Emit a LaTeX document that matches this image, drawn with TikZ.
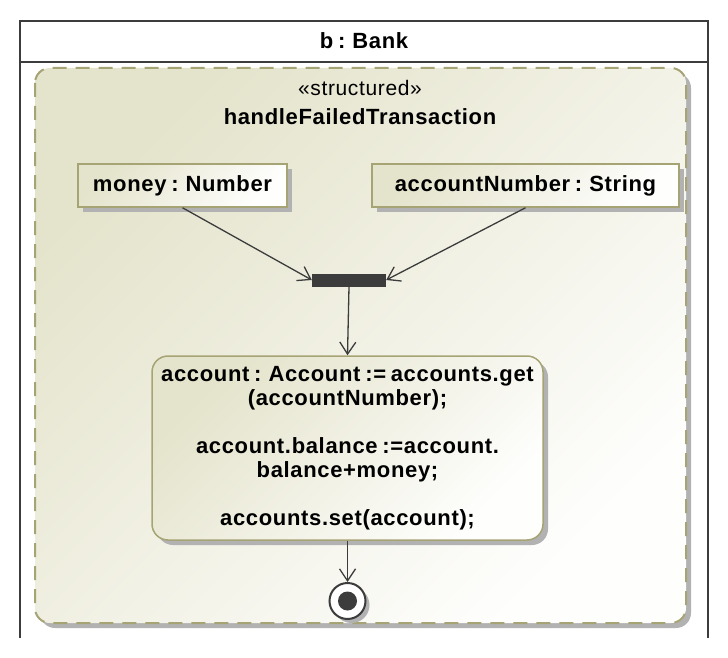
\documentclass[tikz,border=0pt]{standalone}
\usepackage{fontspec}
\setmainfont{Liberation Sans}[LetterSpace=3, WordSpace=0.7]
\usetikzlibrary{arrows.meta,shadows}
\definecolor{umlborder}{RGB}{166,164,116}
\definecolor{umlfill}{RGB}{228,227,203}
\definecolor{umlline}{RGB}{60,60,60}
\definecolor{umlshadow}{RGB}{178,178,178}

\begin{document}
\begin{tikzpicture}[x=1pt, y=-1pt,
        every node/.style={font=\fontsize{22}{24}\selectfont\bfseries},
        umlshade/.style={top color=umlfill, bottom color=white!97!umlfill, shading angle=45},
        umldrop/.style={drop shadow={shadow xshift=5pt, shadow yshift=-5pt, fill=umlshadow, opacity=1}},
        pinbox/.style={draw=umlborder, line width=1.5pt, umlshade, umldrop, inner sep=0pt,
            minimum height=43pt},
        flow/.style={draw=umlline, line width=1.3pt, -{Straight Barb[length=12pt, width=16pt, line width=1.3pt]}}]
    \useasboundingbox (0,0) rectangle (728,658);

    % partition b : Bank
    \draw[umlline, line width=2.5pt] (20,638) -- (20,21) -- (708,21) -- (708,638);
    \draw[umlline, line width=2.5pt] (20,62) -- (708,62);
    \node (bank) at (364,41) {b : Bank};

    % structured activity
    \path[umldrop, umlshade, rounded corners=15pt] (35,68) rectangle (686,623);
    \draw[umlborder, line width=2pt, dash pattern=on 14pt off 9pt, rounded corners=15pt] (35,68) rectangle (686,623);
    \node[font=\fontsize{21}{24}\selectfont] (stereo) at (360,88) {«structured»};
    \node (title) at (360,117) {handleFailedTransaction};

    \node[pinbox, minimum width=209pt] (money) at (182.5,185.5) {money : Number};
    \node[pinbox, minimum width=307pt] (accnum) at (525.5,185.5) {accountNumber : String};

    \node[fill=umlline, minimum width=74pt, minimum height=13pt, inner sep=0pt] (join) at (349,280) {};

    \node[draw=umlborder, line width=1.5pt, umlshade, umldrop, rounded corners=16pt,
        minimum width=391pt, minimum height=184pt, align=center, inner sep=0pt] (update) at (347.5,448)
        {account : Account := accounts.get\\(accountNumber);\\[24pt]
         account.balance :=account.\\balance+money;\\[24pt]
         accounts.set(account);};

    \node[circle, draw=umlline, line width=2pt, fill=white, minimum size=36pt, inner sep=0pt,
        drop shadow={shadow xshift=4pt, shadow yshift=-4pt, fill=umlshadow, opacity=1}] (final) at (347.5,601) {};
    \fill[umlline] (final.center) circle (9.5pt);

    \draw[flow] (money.south) -- (join.west);
    \draw[flow] (accnum.south) -- (join.east);
    \draw[flow] (join.south) -- (update.north);
    \draw[flow] (update.south) -- (final.north);
\end{tikzpicture}
\end{document}
